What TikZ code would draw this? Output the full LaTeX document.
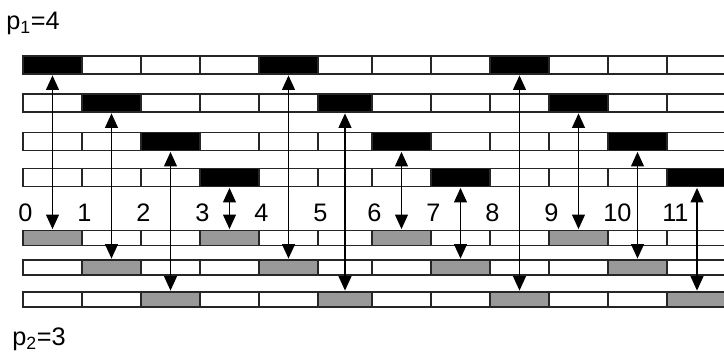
\documentclass[tikz,border=0pt]{standalone}
\usepackage{fontspec}
\setmainfont{Liberation Sans}
\usetikzlibrary{arrows.meta, positioning}
\definecolor{slot}{HTML}{999999}
\definecolor{edge}{HTML}{262626}

\begin{document}
\begin{tikzpicture}[x=0.25mm, y=-0.25mm,
  cell/.style={draw=edge, line width=1.4pt, inner sep=0pt},
  lbl/.style={font=\fontsize{18}{21}\selectfont, inner sep=0pt},
  arr/.style={{Triangle[width=3.2mm,length=3.6mm]}-{Triangle[width=3.2mm,length=3.6mm]},
              line width=1pt, shorten <=0.3pt, shorten >=0.3pt}
]
\useasboundingbox (0,0) rectangle (724,354);

% Upper rows (p1 = 4): black slot moves one cell to the right per row
\foreach \j/\ry in {0/65, 1/103, 2/141.5, 3/177.5} {
  \foreach \i/\xl/\xr in {0/23/82, 1/82/141, 2/141/200, 3/200/259, 4/259/318, 5/318/372,
                          6/372/431, 7/431/490, 8/490/549, 9/549/608, 10/608/667, 11/667/727} {
    \pgfmathtruncatemacro\m{mod(\i,4)}
    \ifnum\m=\j \def\f{black}\else\def\f{white}\fi
    \node[cell, fill=\f, minimum height=4.5mm, minimum width={(\xr-\xl)*0.25mm}]
      (t\j-\i) at ({(\xl+\xr)/2},\ry) {};
  }
}

% Lower rows (p2 = 3): grey slots
\foreach \j/\ry in {0/238, 1/267.5, 2/299.5} {
  \foreach \i/\xl/\xr in {0/23/82, 1/82/141, 2/141/200, 3/200/259, 4/259/318, 5/318/372,
                          6/372/431, 7/431/490, 8/490/549, 9/549/608, 10/608/667, 11/667/727} {
    \pgfmathtruncatemacro\m{mod(\i,3)}
    \ifnum\m=\j \def\f{slot}\else\def\f{white}\fi
    \node[cell, fill=\f, minimum height=3.75mm, minimum width={(\xr-\xl)*0.25mm}]
      (b\j-\i) at ({(\xl+\xr)/2},\ry) {};
  }
}

% Time step numbers
\foreach \i/\xl in {0/23, 1/82, 2/141, 3/200, 4/259, 5/318, 6/372, 7/431, 8/490, 9/549, 10/608, 11/667}
  \node[lbl, anchor=west] (n\i) at (\xl-5,213) {\i};

% Links between matching slots
\foreach \i in {0,...,11} {
  \pgfmathtruncatemacro\a{mod(\i,4)}
  \pgfmathtruncatemacro\b{mod(\i,3)}
  \draw[arr] (t\a-\i.south) -- (b\b-\i.north);
}

\node[lbl, anchor=base west] (p1) at (6,30)  {p\textsubscript{1}=4};
\node[lbl, anchor=base west] (p2) at (12,345) {p\textsubscript{2}=3};
\end{tikzpicture}
\end{document}
